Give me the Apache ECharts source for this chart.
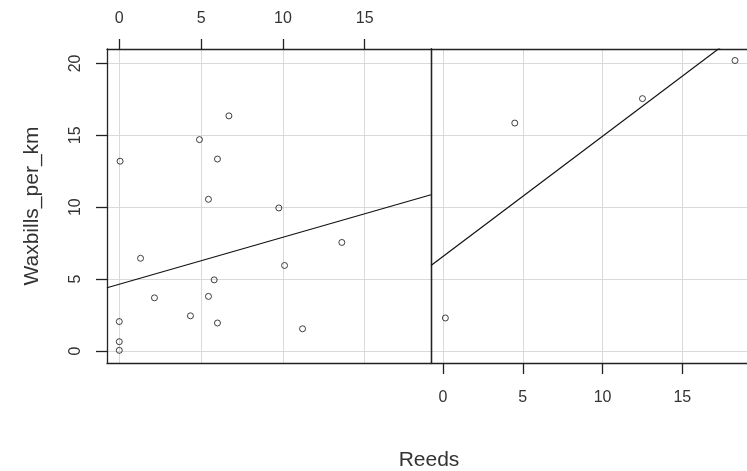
<!DOCTYPE html>
<html>
<head>
<meta charset="utf-8">
<script src="https://cdn.jsdelivr.net/npm/echarts@6.0.0/dist/echarts.min.js"></script>
<style>
html,body{margin:0;padding:0;background:#fff;}
#chart{width:747px;height:471px;}
</style>
</head>
<body>
<div id="chart"></div>
<script>
// Panel 1 (left) data
var leftReeds = [6.7, 4.9, 0.05, 6.0, 5.45, 9.75, 1.3, 13.6, 10.1, 5.8, 2.15, 5.45, 4.35, 0, 6.0, 11.2, 0, 0];
var leftWax   = [16.35, 14.7, 13.2, 13.35, 10.55, 9.95, 6.45, 7.55, 5.95, 4.95, 3.7, 3.8, 2.45, 2.05, 1.95, 1.55, 0.65, 0.05];
// Panel 2 (right) data
var rightReeds = [4.5, 12.5, 18.3, 0.15];
var rightWax   = [15.85, 17.55, 20.2, 2.3];
// Fitted lines (end points)
var leftFitX  = [-0.75, 19.05];
var leftFitY  = [4.40, 10.87];
var rightFitX = [-0.75, 19.05];
var rightFitY = [5.95, 22.50];
// Tick labels
var xTicks = [0, 5, 10, 15];
var yTicks = [0, 5, 10, 15, 20];
var xRange = [-0.75, 19.05];
var yRange = [-0.83, 21.0];

function pairs(xs, ys){ return xs.map(function(x,i){ return [x, ys[i]]; }); }

var borderStyle = {color:'#222', width:1.3};
var gridStyle = {color:'#d9d9d9', width:1};
var labelFont = {color:'#333', fontSize:16, fontFamily:'Liberation Sans, Arial, sans-serif'};

function xAx(grid, pos, opts){
  return Object.assign({
    type:'value', gridIndex:grid, position:pos, min:xRange[0], max:xRange[1],
    axisLine:{show:true, onZero:false, lineStyle:borderStyle},
    axisTick:{show:false, customValues:xTicks},
    axisLabel:{show:false, customValues:xTicks},
    splitLine:{show:false}
  }, opts||{});
}
function yAx(grid, pos, opts){
  return Object.assign({
    type:'value', gridIndex:grid, position:pos, min:yRange[0], max:yRange[1],
    axisLine:{show:true, onZero:false, lineStyle:borderStyle},
    axisTick:{show:false, customValues:yTicks},
    axisLabel:{show:false, customValues:yTicks},
    splitLine:{show:false}
  }, opts||{});
}

var chart = echarts.init(document.getElementById('chart'), null, {renderer:'canvas'});
var option = {
  animation:false,
  backgroundColor:'#fff',
  grid:[
    {left:107, top:49, width:324, height:314, containLabel:false},
    {left:431, top:49, width:324, height:314, containLabel:false}
  ],
  xAxis:[
    xAx(0,'bottom',{splitLine:{show:true, lineStyle:gridStyle}}),
    xAx(0,'top',{
      axisTick:{show:true, inside:false, length:10, customValues:xTicks, lineStyle:borderStyle},
      axisLabel:Object.assign({show:true, margin:22, customValues:xTicks}, labelFont)
    }),
    xAx(1,'bottom',{
      splitLine:{show:true, lineStyle:gridStyle},
      axisTick:{show:true, inside:false, length:11, customValues:xTicks, lineStyle:borderStyle},
      axisLabel:Object.assign({show:true, margin:27, customValues:xTicks}, labelFont)
    }),
    xAx(1,'top',{})
  ],
  yAxis:[
    yAx(0,'left',{
      splitLine:{show:true, lineStyle:gridStyle},
      axisTick:{show:true, inside:false, length:11, customValues:yTicks, lineStyle:borderStyle},
      axisLabel:Object.assign({show:true, margin:23, rotate:90, customValues:yTicks}, labelFont),
      name:'Waxbills_per_km', nameLocation:'middle', nameGap:64, nameRotate:90,
      nameTextStyle:{color:'#333', fontSize:21, fontFamily:'Liberation Sans, Arial, sans-serif'}
    }),
    yAx(0,'right',{}),
    yAx(1,'left',{splitLine:{show:true, lineStyle:gridStyle}})
  ],
  graphic:[
    {type:'text', left:null, x:429, y:460, style:{text:'Reeds', fill:'#333', fontSize:21, fontFamily:'Liberation Sans, Arial, sans-serif', align:'center', verticalAlign:'middle'}}
  ],
  series:[
    {type:'scatter', xAxisIndex:0, yAxisIndex:0, data:pairs(leftReeds,leftWax), symbol:'circle', symbolSize:6,
     itemStyle:{color:'rgba(0,0,0,0)', borderColor:'#111', borderWidth:1}, z:3},
    {type:'line', xAxisIndex:0, yAxisIndex:0, data:pairs(leftFitX,leftFitY), showSymbol:false, symbol:'none', clip:true,
     lineStyle:{color:'#111', width:1.2}},
    {type:'scatter', xAxisIndex:2, yAxisIndex:2, data:pairs(rightReeds,rightWax), symbol:'circle', symbolSize:6,
     itemStyle:{color:'rgba(0,0,0,0)', borderColor:'#111', borderWidth:1}, z:3},
    {type:'line', xAxisIndex:2, yAxisIndex:2, data:pairs(rightFitX,rightFitY), showSymbol:false, symbol:'none', clip:true,
     lineStyle:{color:'#111', width:1.2}}
  ]
};
chart.setOption(option);
</script>
</body>
</html>
